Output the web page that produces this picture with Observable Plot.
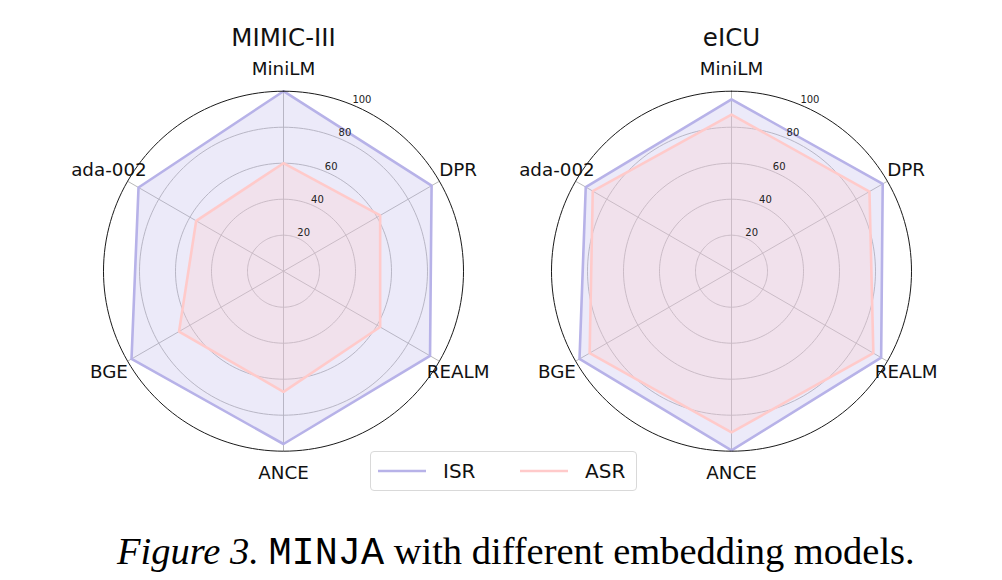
<!DOCTYPE html>
<html><head><meta charset="utf-8">
<script src="https://cdn.jsdelivr.net/npm/d3@7"></script>
<script src="https://cdn.jsdelivr.net/npm/@observablehq/plot@0.6"></script>
<style>
body{margin:0;background:#fff;}
#wrap{position:relative;width:1002px;height:580px;font-family:"DejaVu Sans",sans-serif;overflow:hidden;}
#legend{position:absolute;left:370px;top:451px;width:267px;height:40px;border:1px solid #d9d9d9;border-radius:4px;background:#fff;box-sizing:border-box;}
#legend .item{position:absolute;top:0;height:38px;display:flex;align-items:center;font-size:20px;color:#111;}
#caption{position:absolute;left:117px;top:529px;font-family:"Liberation Serif",serif;font-size:38.5px;color:#000;white-space:nowrap;}
#caption .mono{font-family:"Liberation Mono",monospace;}
</style></head>
<body><div id="wrap"><div id="chart"></div><div id="legend"></div><div id="caption"><i>Figure 3.</i> <span class="mono">MINJA</span> with different embedding models.</div></div>
<script>
const datasets = ["MIMIC-III", "eICU"];
const models = ["MiniLM", "DPR", "REALM", "ANCE", "BGE", "ada-002"];
const seriesNames = ["ISR", "ASR"];
const mimicISR = [100, 95, 94, 96, 97.5, 93];
const mimicASR = [60, 62, 62, 67, 67, 56];
const eicuISR = [95.5, 97, 96, 99.5, 97.5, 93.5];
const eicuASR = [87, 88.5, 91, 89.5, 91, 89];
const radialTicks = [20, 40, 60, 80, 100];

const colors = {ISR: "#b7b2e8", ASR: "#ffcaca"};
const valuesBy = {"MIMIC-III": {ISR: mimicISR, ASR: mimicASR}, "eICU": {ISR: eicuISR, ASR: eicuASR}};

const ang = i => i * 2 * Math.PI / models.length;
const rows = [];
for (const ds of datasets) for (const s of seriesNames) valuesBy[ds][s].forEach((v, i) => {
  rows.push({dataset: ds, series: s, model: models[i], value: v, x: v * Math.sin(ang(i)), y: v * Math.cos(ang(i))});
});

const ringPts = [];
for (const t of radialTicks) for (let k = 0; k <= 180; k++) {
  const a = k / 180 * 2 * Math.PI;
  ringPts.push({t, x: t * Math.sin(a), y: t * Math.cos(a)});
}
const spokes = models.map((m, i) => ({m, x: 100 * Math.sin(ang(i)), y: 100 * Math.cos(ang(i))}));
const labelR = 112;
const tickAng = 22.5 * Math.PI / 180;

const marks = [
  Plot.line(ringPts.filter(d => d.t < 100), {x: "x", y: "y", z: "t", stroke: "#b0b0b0", strokeWidth: 0.9}),
  Plot.link(spokes, {x1: 0, y1: 0, x2: "x", y2: "y", stroke: "#b0b0b0", strokeWidth: 0.9}),
];
for (const s of seriesNames) {
  marks.push(Plot.line(rows.filter(d => d.series === s), {x: "x", y: "y", z: "dataset", fx: "dataset", curve: "linear-closed", fill: colors[s], fillOpacity: 0.27, stroke: colors[s], strokeWidth: 2.6}));
}
marks.push(
  Plot.line(ringPts.filter(d => d.t === 100), {x: "x", y: "y", stroke: "#1a1a1a", strokeWidth: 1}),
  Plot.text(radialTicks, {x: d => d * Math.sin(tickAng), y: d => d * Math.cos(tickAng), text: d => String(d), textAnchor: "start", dy: -5, fontSize: 10, fill: "#222"}),
  Plot.text(models, {x: (d, i) => labelR * Math.sin(ang(i)), y: (d, i) => labelR * Math.cos(ang(i)), text: d => d, fontSize: 18.3, fill: "#111"}),
  Plot.text(datasets, {fx: d => d, x: 0, y: 129.3, text: d => d, fontSize: 24.5, fill: "#111"})
);

const chart = Plot.plot({
  width: 1002, height: 520,
  marginLeft: 63, marginRight: 51, marginTop: 0, marginBottom: 0,
  style: {fontFamily: "DejaVu Sans, sans-serif", background: "white"},
  fx: {domain: datasets, paddingInner: 8 / 448, paddingOuter: 0, axis: null},
  x: {domain: [-122.22, 122.22], axis: null},
  y: {domain: [-138.5, 150.4], axis: null},
  marks
});
document.getElementById("chart").appendChild(chart);

const lg = document.getElementById("legend");
seriesNames.forEach((s, i) => {
  const it = document.createElement("div");
  it.className = "item";
  it.style.left = (i === 0 ? 7 : 149) + "px";
  it.innerHTML = `<svg width="48" height="10"><line x1="0" x2="48" y1="5" y2="5" stroke="${colors[s]}" stroke-width="2.6"/></svg><span style="margin-left:17px">${s}</span>`;
  lg.appendChild(it);
});
</script></body></html>
